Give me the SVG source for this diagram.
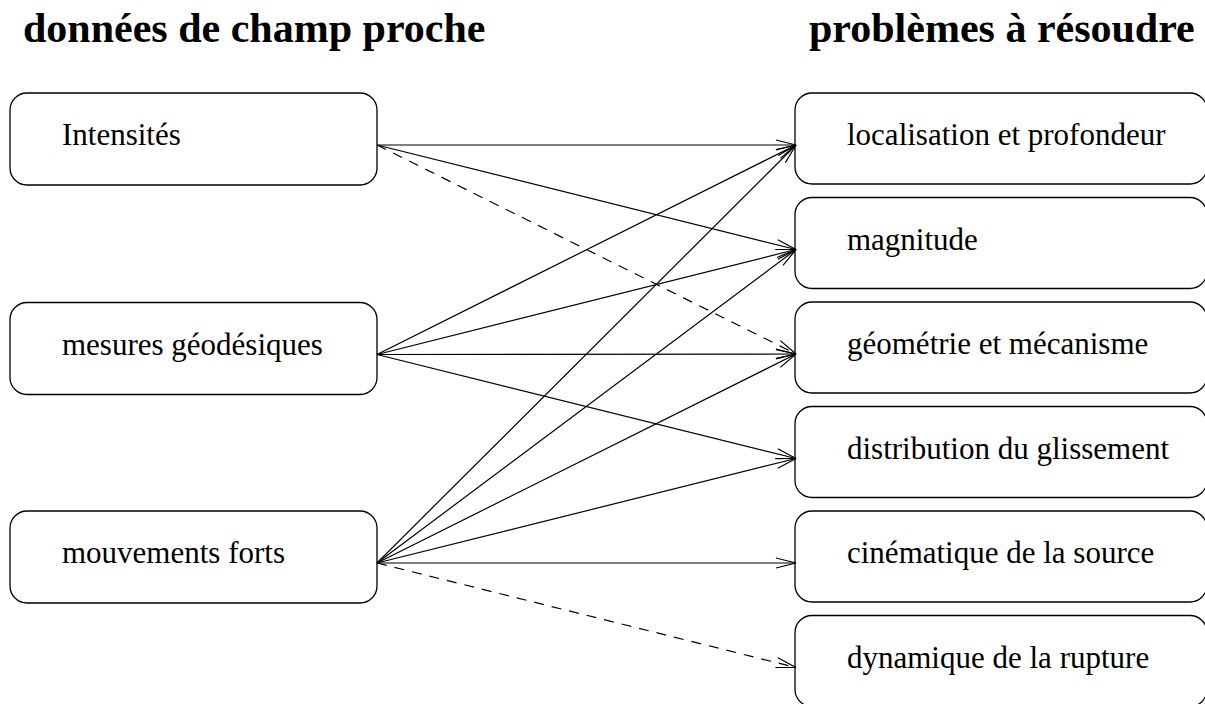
<svg xmlns="http://www.w3.org/2000/svg" width="1205" height="704" viewBox="0 0 1205 704">
<style>
.box{fill:#fff;stroke:#000;stroke-width:1.3}
.lbl{font-family:"Liberation Serif","Times New Roman",serif;font-size:31px;fill:#000}
.ttl{font-family:"Liberation Serif","Times New Roman",serif;font-size:42px;font-weight:bold;fill:#000}
.c{stroke:#000;stroke-width:1.2;fill:none;marker-end:url(#ah)}
.d{stroke-dasharray:10 8}
</style>
<defs>
<marker id="ah" markerUnits="userSpaceOnUse" markerWidth="22" markerHeight="12" refX="20" refY="5" orient="auto" overflow="visible">
<path d="M0,0 L20,5 L0,10" fill="none" stroke="#000" stroke-width="1.2"/>
</marker>
</defs>
<rect width="1205" height="704" fill="#fff"/>
<text class="ttl" x="23" y="42">données de champ proche</text>
<text class="ttl" x="809" y="42">problèmes à résoudre</text>
<g id="n-intensites"><rect class="box" x="10" y="93" width="367" height="92" rx="17"/><text class="lbl" x="62" y="145">Intensités</text></g>
<g id="n-mesures"><rect class="box" x="10" y="302.5" width="367" height="92" rx="17"/><text class="lbl" x="62" y="354.5">mesures géodésiques</text></g>
<g id="n-mouvements"><rect class="box" x="10" y="511" width="367" height="92" rx="17"/><text class="lbl" x="62" y="563">mouvements forts</text></g>
<g id="n-localisation"><rect class="box" x="795" y="93" width="412" height="91" rx="17"/><text class="lbl" x="847" y="145">localisation et profondeur</text></g>
<g id="n-magnitude"><rect class="box" x="795" y="197.5" width="412" height="91" rx="17"/><text class="lbl" x="847" y="249.5">magnitude</text></g>
<g id="n-geometrie"><rect class="box" x="795" y="302" width="412" height="91" rx="17"/><text class="lbl" x="847" y="354">géométrie et mécanisme</text></g>
<g id="n-distribution"><rect class="box" x="795" y="406.5" width="412" height="91" rx="17"/><text class="lbl" x="847" y="458.5">distribution du glissement</text></g>
<g id="n-cinematique"><rect class="box" x="795" y="511" width="412" height="91" rx="17"/><text class="lbl" x="847" y="563">cinématique de la source</text></g>
<g id="n-dynamique"><rect class="box" x="795" y="615.5" width="412" height="91" rx="17"/><text class="lbl" x="847" y="667.5">dynamique de la rupture</text></g>
<g id="connectors">
<line class="c" x1="377" y1="145" x2="796" y2="145"/>
<line class="c" x1="377" y1="145" x2="796" y2="249.5"/>
<line class="c d" x1="377" y1="145" x2="796" y2="354"/>
<line class="c" x1="377" y1="354.5" x2="796" y2="145"/>
<line class="c" x1="377" y1="354.5" x2="796" y2="249.5"/>
<line class="c" x1="377" y1="354.5" x2="796" y2="354"/>
<line class="c" x1="377" y1="354.5" x2="796" y2="458.5"/>
<line class="c" x1="377" y1="563" x2="796" y2="145"/>
<line class="c" x1="377" y1="563" x2="796" y2="249.5"/>
<line class="c" x1="377" y1="563" x2="796" y2="354"/>
<line class="c" x1="377" y1="563" x2="796" y2="458.5"/>
<line class="c" x1="377" y1="563" x2="796" y2="563"/>
<line class="c d" x1="377" y1="563" x2="796" y2="667.5"/>
</g>
</svg>
